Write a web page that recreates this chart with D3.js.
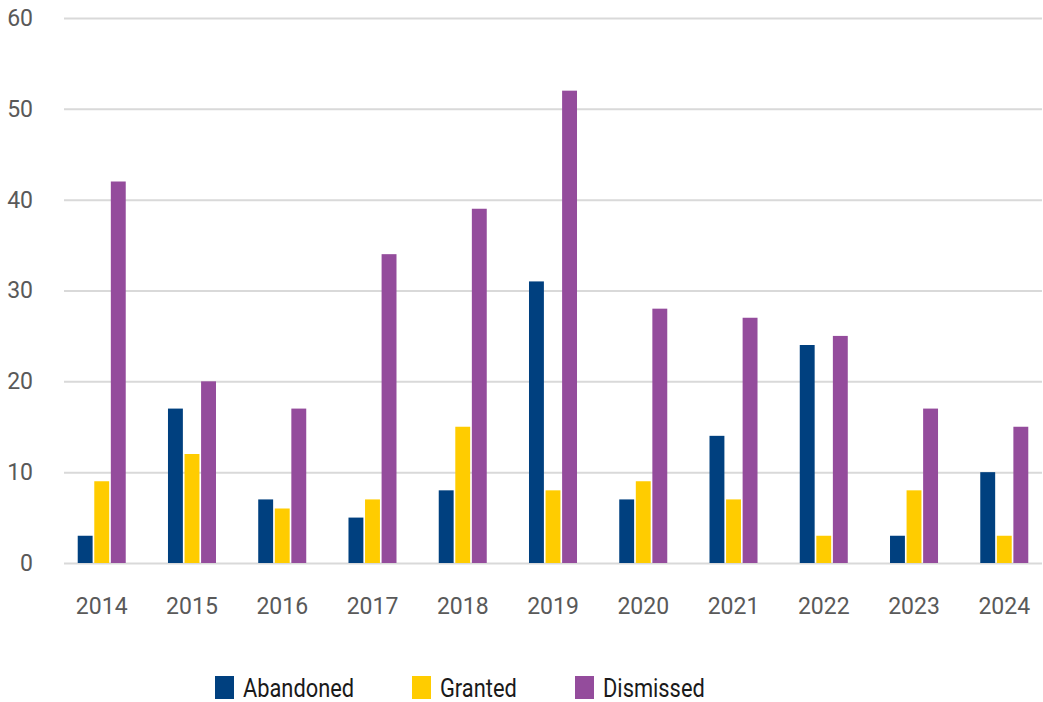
<html>
  <head>
    <style>
      body { margin: 0; background: #fff; }
      text { font-family: Roboto, "Noto Sans", sans-serif; }
      .grid line { stroke: #d9d9d9; stroke-width: 2px; }
      .tick text { fill: #595959; font-size: 23px; }
      .legend text { fill: #1a1a1a; font-size: 26px; }
    </style>
  </head>
  <body>
    <script src="https://d3js.org/d3.v7.min.js"></script>
    <script>
    var years = ["2014", "2015", "2016", "2017", "2018", "2019", "2020", "2021", "2022", "2023", "2024"];
    var seriesNames = ["Abandoned", "Granted", "Dismissed"];
    var abandoned = [3, 17, 7, 5, 8, 31, 7, 14, 24, 3, 10];
    var granted = [9, 12, 6, 7, 15, 8, 9, 7, 3, 8, 3];
    var dismissed = [42, 20, 17, 34, 39, 52, 28, 27, 25, 17, 15];
    var yTicks = [0, 10, 20, 30, 40, 50, 60];
    var colors = ["#00407f", "#ffcc00", "#944c9c"];

    var width = 1043, height = 702;
    var plotLeft = 64, plotRight = 1042, plotTop = 18, plotBottom = 563;

    var svg = d3.select("body")
        .append("svg")
        .attr("width", width)
        .attr("height", height);

    var x = d3.scaleBand().domain(years).range([plotLeft, plotRight])
        .paddingInner(0.468).paddingOuter(0.152);
    var xs = d3.scaleBand().domain(seriesNames).range([0, x.bandwidth()])
        .paddingInner(0.1);
    var y = d3.scaleLinear().domain([0, 60]).range([plotBottom, plotTop]);
    var color = d3.scaleOrdinal(seriesNames, colors);

    // gridlines + y labels
    var yAxis = svg.append("g")
        .attr("class", "grid")
        .attr("transform", "translate(" + plotLeft + ",0)")
        .call(d3.axisLeft(y).tickValues(yTicks).tickSize(plotLeft - plotRight).tickPadding(31));
    yAxis.select(".domain").remove();
    yAxis.selectAll(".tick text").attr("dy", "0.32em");

    var xAxis = svg.append("g")
        .attr("transform", "translate(0," + plotBottom + ")")
        .call(d3.axisBottom(x).tickSize(0).tickPadding(35));
    xAxis.select(".domain").remove();

    var rows = years.map(function(yr, i) {
      return { year: yr, values: [abandoned[i], granted[i], dismissed[i]] };
    });

    var groups = svg.append("g").selectAll("g")
        .data(rows)
        .enter().append("g")
        .attr("transform", function(d) { return "translate(" + x(d.year) + ",0)"; });

    groups.selectAll("rect")
        .data(function(d) {
          return seriesNames.map(function(s, j) { return { key: s, value: d.values[j] }; });
        })
        .enter().append("rect")
        .attr("x", function(d) { return xs(d.key); })
        .attr("y", function(d) { return y(d.value); })
        .attr("width", xs.bandwidth())
        .attr("height", function(d) { return y(0) - y(d.value); })
        .attr("fill", function(d) { return color(d.key); });

    // legend
    var legendX = [215, 412, 575];
    var legend = svg.append("g").attr("class", "legend")
        .selectAll("g")
        .data(seriesNames)
        .enter().append("g")
        .attr("transform", function(d, i) { return "translate(" + legendX[i] + ",676)"; });

    legend.append("rect")
        .attr("width", 19)
        .attr("height", 23)
        .attr("fill", function(d) { return color(d); });

    legend.append("text")
        .attr("transform", "translate(28,21) scale(0.84,1)")
        .text(function(d) { return d; });
    </script>
  </body>
</html>
